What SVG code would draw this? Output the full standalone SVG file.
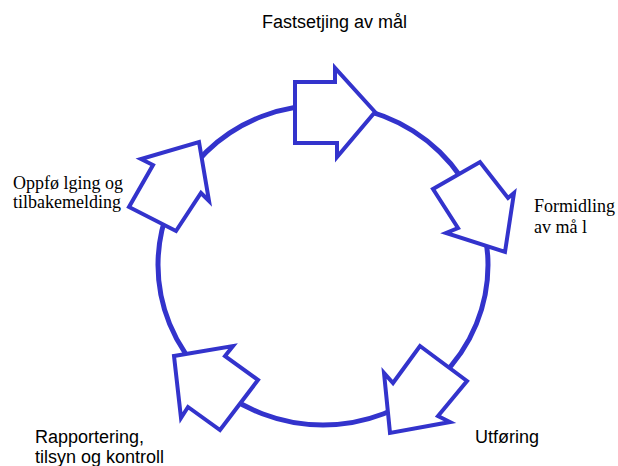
<svg xmlns="http://www.w3.org/2000/svg" width="618" height="466" viewBox="0 0 618 466">
<style>
.ring{fill:none;stroke:#3333cc;stroke-width:5}
.arrow{fill:#ffffff;stroke:#3333cc;stroke-width:4;stroke-linejoin:miter}
.sans{font-family:"Liberation Sans",Arial,sans-serif;font-size:18px;fill:#000}
.serif{font-family:"Liberation Serif","Times New Roman",serif;font-size:18px;fill:#000}
</style>
<rect width="618" height="466" fill="#ffffff"/>
<g id="connectors">
<ellipse class="ring" cx="323" cy="265" rx="165" ry="160"/>
</g>
<g id="node-fastsetjing">
<polygon class="arrow" points="295,82 335,82 335,68 375,112 337,157 337,143 295,143"/>
<text class="sans" x="262" y="28">Fastsetjing av mål</text>
</g>
<g id="node-formidling">
<polygon class="arrow" points="433,189 480,162 508,198 514,193 505,252 446,233 458,228"/>
<text class="serif" x="534" y="212">Formidling</text>
<text class="serif" x="534" y="233">av må l</text>
</g>
<g id="node-utforing">
<polygon class="arrow" points="420,346 467,381 438,416 450,422 390,433 384,373 393,383"/>
<text class="sans" x="475" y="443">Utføring</text>
</g>
<g id="node-rapportering">
<polygon class="arrow" points="174,356 233,346 225,356 258,380 220,430 188,407 181,418"/>
<text class="sans" x="35" y="443">Rapportering,</text>
<text class="sans" x="35" y="463">tilsyn og kontroll</text>
</g>
<g id="node-oppfolging">
<polygon class="arrow" points="199,142 209,201 201,193 176,231 129,207 153,165 141,159"/>
<text class="serif" x="13" y="189">Oppfø lging og</text>
<text class="serif" x="13" y="208">tilbakemelding</text>
</g>
</svg>
